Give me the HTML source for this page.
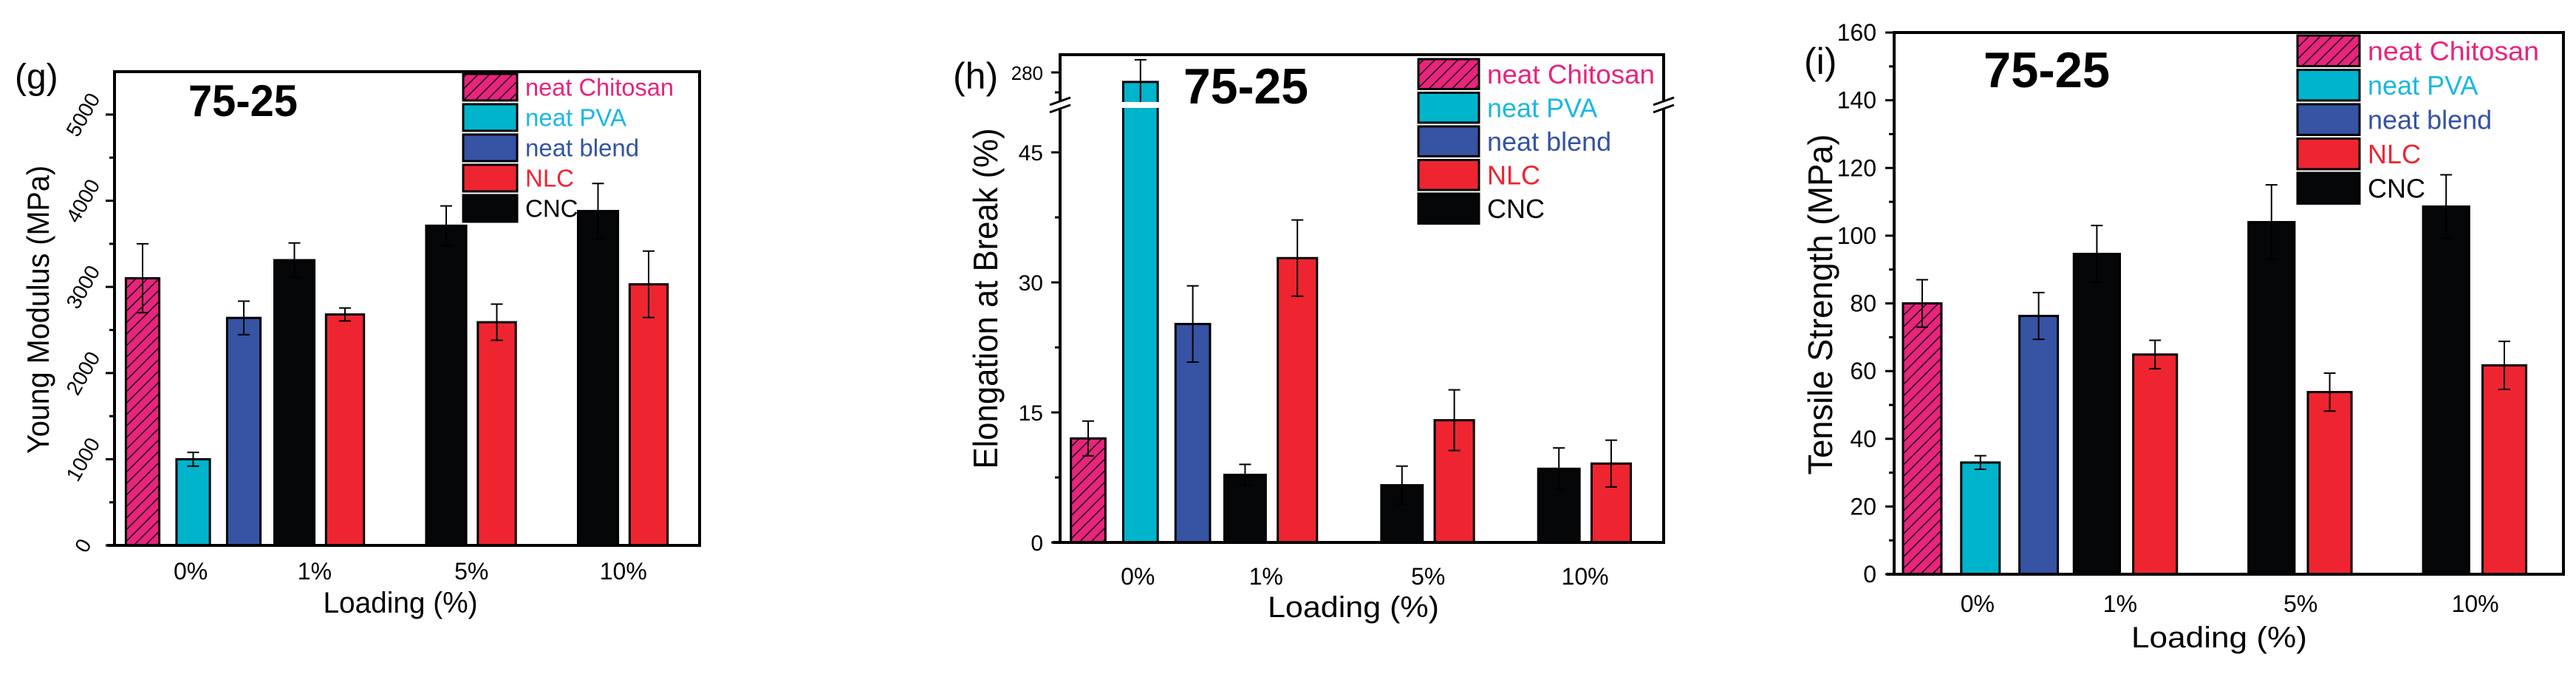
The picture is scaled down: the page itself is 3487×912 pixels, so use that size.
<!DOCTYPE html>
<html><head><meta charset="utf-8"><style>
html,body{margin:0;padding:0;background:#fff;}
svg{display:block;font-family:"Liberation Sans",sans-serif;}
</style></head><body>
<svg id="fig" xmlns="http://www.w3.org/2000/svg" width="3487" height="912" viewBox="0 0 3487 912">
<defs>
<pattern id="hatch" patternUnits="userSpaceOnUse" width="11" height="11" patternTransform="rotate(45)">
<rect width="11" height="11" fill="#e8247c"/><line x1="0" y1="0" x2="0" y2="11" stroke="#111" stroke-width="3"/>
</pattern>
</defs>
</svg>
<script>
const seriesNames = ["neat Chitosan","neat PVA","neat blend","NLC","CNC"];
const categories = ["0%","1%","5%","10%"];
// bar order: chitosan, PVA, blend, CNC1, NLC1, CNC5, NLC5, CNC10, NLC10
const barSeries = [0,1,2,4,3,4,3,4,3];
const barSlots = [0,1,2,3,4,6,7,9,10];
const catSlots = [0.95,3.4,6.5,9.5];
// Young modulus
const ymVals = [3100,1000,2640,3310,2680,3710,2590,3880,3030];
const ymErr  = [400,80,195,200,75,230,210,320,385];
const ymTicks = [0,1000,2000,3000,4000,5000];
// Elongation
const elVals = [12,275.7,25.2,7.8,32.8,6.6,14.1,8.5,9.1];
const elErr  = [2,10,4.4,1.2,4.4,2.2,3.5,2.4,2.7];
const elTicks = [0,15,30,45];
// Tensile strength
const tsVals = [80,33,76.3,94.6,64.9,104,53.8,108.6,61.7];
const tsErr  = [7,2,6.9,8.4,4.2,11,5.6,9.4,7.1];
const tsTicks = [0,20,40,60,80,100,120,140,160];

const NS="http://www.w3.org/2000/svg";
const svg=document.getElementById('fig');
const fills=["url(#hatch)","#00b4cc","#3653a4","#ee2530","#050608"];
const textCols=["#e8237d","#1ab8e0","#3453a4","#ee2530","#050608"];
const widths=[0.66,0.66,0.66,0.75,0.79];
function el(tag,attrs,parent){const e=document.createElementNS(NS,tag);for(const k in attrs)e.setAttribute(k,attrs[k]);(parent||svg).appendChild(e);return e;}

function panel(P){
  const g=el('g',{});
  
  
  const X=s=>P.x0+s*P.step;
  const Y=P.Y;
  // bars
  P.vals.forEach((v,i)=>{
    const s=barSeries[i], w=P.step*widths[s], cx=X(barSlots[i]);
    const yt=Y(v);
    const r=el('rect',{x:cx-w/2,y:yt,width:w,height:P.bottom-yt,fill:fills[s],stroke:'#000','stroke-width':3},g);
    
    
    const e=P.err[i], y1=Y(v+e), y2=Y(v-e);
    const eb=el('path',{d:`M${cx} ${y1}V${y2}M${cx-8} ${y1}H${cx+8}M${cx-8} ${y2}H${cx+8}`,stroke:'#000','stroke-width':2,fill:'none'},g);
    
    
  });
  if(P.after)P.after(g,X);
  // frame
  const fr=el('rect',{x:P.left,y:P.top,width:P.right-P.left,height:P.bottom-P.top,fill:'none',stroke:'#000','stroke-width':4},g);
  
  
  el('line',{x1:P.left-10,y1:P.bottom,x2:P.left,y2:P.bottom,stroke:'#000','stroke-width':4},g);
  // ticks
  P.ticks.forEach(t=>{
    const y=Y(t);
    el('line',{x1:P.left-12,y1:y,x2:P.left,y2:y,stroke:'#000','stroke-width':3},g);
    const tx=el('text',{x:P.tickX,y:y+11,'font-size':P.tickFs,'text-anchor':'end'},g);
    if(P.rot){tx.setAttribute('text-anchor','middle');tx.setAttribute('transform',`rotate(-60 ${P.tickX} ${y})`);tx.setAttribute('y',y+10);}
    tx.textContent=t;
    
    
  });
  P.minor.forEach(t=>{const y=Y(t);el('line',{x1:P.left-7,y1:y,x2:P.left,y2:y,stroke:'#000','stroke-width':3},g);});
  // category labels
  categories.forEach((c,i)=>{
    const t=el('text',{x:X(catSlots[i]),y:P.catY,'font-size':32,'text-anchor':'middle'},g);
    t.textContent=c;
    
    
  });
  const xt=el('text',{x:P.xtX,y:P.xtY,'font-size':40,'text-anchor':'middle',textLength:P.xtL,lengthAdjust:'spacingAndGlyphs'},g);
  xt.textContent='Loading (%)';
  
  
  const yt=el('text',{x:0,y:0,'font-size':P.ytFs,'text-anchor':'middle',textLength:P.ytL,lengthAdjust:'spacingAndGlyphs',transform:`translate(${P.ytX} ${P.ytY}) rotate(-90)`},g);
  yt.textContent=P.ytitle;
  
  
  const pl=el('text',{x:P.plX,y:P.plY,'font-size':P.plFs},g);
  pl.textContent=P.plabel;
  
  
  const ti=el('text',{x:P.tiX,y:P.tiY,'font-size':P.tiFs,'font-weight':'bold',textLength:P.tiL,lengthAdjust:'spacingAndGlyphs'},g);
  ti.textContent='75-25';
  
  
  // legend
  seriesNames.forEach((n,i)=>{
    const y=P.lgY+i*P.lgStep;
    const b=el('rect',{x:P.lgX,y:y,width:P.lgW,height:P.lgStep-5,fill:fills[i],stroke:'#000','stroke-width':3},g);
    
    
    const t=el('text',{x:P.lgX+P.lgW+11,y:y+P.lgStep*0.72,'font-size':P.lgFs,fill:textCols[i]},g);
    if(i===0){t.setAttribute('textLength',P.lgL);t.setAttribute('lengthAdjust','spacingAndGlyphs');}
    t.textContent=n;
    
    
  });
}

// Panel g
panel({name:'panel-young-modulus',x0:193,step:68.5,left:155,right:947,top:97,bottom:738,
  Y:v=>738-v*0.1166,vals:ymVals,err:ymErr,ticks:ymTicks,minor:[500,1500,2500,3500,4500],
  tickX:112,tickFs:28,rot:true,catY:784,xtX:542,xtY:829,xtL:209,
  ytitle:'Young Modulus (MPa)',ytX:66,ytY:419,ytL:390,ytFs:42,
  plabel:'(g)',plX:20,plY:120,plFs:48,tiX:255,tiY:157,tiFs:60,tiL:148,
  lgX:627,lgY:100,lgStep:41,lgW:73,lgFs:33,lgL:201});

// Panel h (broken axis)
const elLowY=v=>734-v*11.73;
const elY=v=>v>100?98+(280-v)*3:elLowY(v);
panel({name:'panel-elongation',x0:1473,step:70.8,left:1435,right:2252,top:74,bottom:734,
  Y:elY,vals:elVals,err:elErr,ticks:elTicks,minor:[7.5,22.5,37.5],
  tickX:1412,tickFs:30,catY:791,xtX:1832,xtY:835,xtL:232,
  ytitle:'Elongation at Break (%)',ytX:1350,ytY:404,ytL:461,ytFs:46,
  plabel:'(h)',plX:1290,plY:120,plFs:50,tiX:1602,tiY:140,tiFs:68,tiL:169,
  lgX:1920,lgY:80,lgStep:45.5,lgW:82,lgFs:36,lgL:227,
  after:(g,X)=>{
    // break gaps
    el('rect',{x:1500,y:138,width:80,height:8,fill:'#fff'},g);
  }});
// break marks and upper tick
(function(){
  const g=el('g',{});
  
  
  [1435,2252].forEach(x=>{
    el('rect',{x:x-6,y:136,width:12,height:12,fill:'#fff'},g);
    el('path',{d:`M${x-14} ${142}L${x+14} ${132}M${x-14} ${152}L${x+14} ${142}`,stroke:'#000','stroke-width':3},g);
  });
  el('line',{x1:1423,y1:98,x2:1435,y2:98,stroke:'#000','stroke-width':3},g);
  el('line',{x1:1428,y1:125,x2:1435,y2:125,stroke:'#000','stroke-width':3},g);
  const t=el('text',{x:1412,y:108,'font-size':26,'text-anchor':'end'},g);
  t.textContent='280';
  
  
})();

// Panel i
panel({name:'panel-tensile-strength',x0:2602,step:78.8,left:2564,right:3470,top:44,bottom:777,
  Y:v=>777-v*4.581,vals:tsVals,err:tsErr,ticks:tsTicks,minor:[10,30,50,70,90,110,130,150],
  tickX:2540,tickFs:32,catY:828,xtX:3004,xtY:876,xtL:238,
  ytitle:'Tensile Strength (MPa)',ytX:2480,ytY:412,ytL:461,ytFs:46,
  plabel:'(i)',plX:2442,plY:100,plFs:50,tiX:2685,tiY:118,tiFs:68,tiL:171,
  lgX:3110,lgY:48,lgStep:46.5,lgW:84,lgFs:36,lgL:232});
</script>
</body></html>
